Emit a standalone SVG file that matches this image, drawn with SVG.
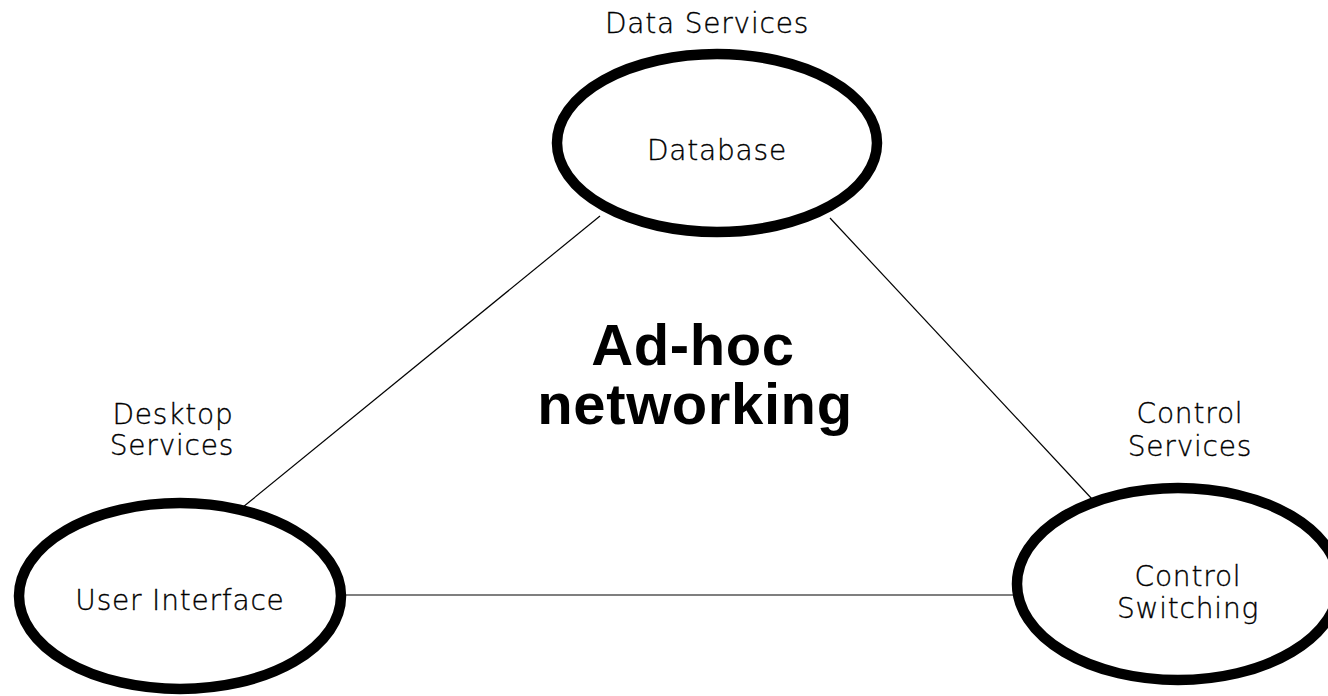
<svg xmlns="http://www.w3.org/2000/svg" width="1328" height="696" viewBox="0 0 1328 696">
  <style>
    .node { fill: #ffffff; stroke: #000000; stroke-width: 10.5; }
    .conn { stroke: #000000; stroke-width: 1.2; fill: none; }
    .lbl { font-family: "DejaVu Sans", "Liberation Sans", sans-serif; font-weight: 200; font-size: 28px; letter-spacing: 0.8px; fill: #000000; stroke: #000000; stroke-width: 0.35; text-anchor: middle; }
    .title { font-family: "Liberation Sans", Arial, sans-serif; font-weight: bold; font-size: 58px; letter-spacing: 0.6px; fill: #000000; text-anchor: middle; }
  </style>
  <rect width="1328" height="696" fill="#ffffff"/>
  <g id="connectors">
    <line class="conn" x1="243" y1="507" x2="600" y2="216"/>
    <line class="conn" x1="830" y1="218" x2="1092" y2="499"/>
    <line class="conn" x1="344" y1="595" x2="1014" y2="595"/>
  </g>
  <g id="database">
    <ellipse class="node" cx="717" cy="143" rx="160" ry="89"/>
    <text class="lbl" x="707" y="33">Data Services</text>
    <text class="lbl" x="717" y="160">Database</text>
  </g>
  <g id="user-interface">
    <ellipse class="node" cx="180" cy="596" rx="161" ry="93"/>
    <text class="lbl"><tspan x="173" y="424">Desktop</tspan><tspan x="172" y="455">Services</tspan></text>
    <text class="lbl" x="180" y="610">User Interface</text>
  </g>
  <g id="control-switching">
    <ellipse class="node" cx="1178" cy="584" rx="161" ry="96"/>
    <text class="lbl"><tspan x="1190" y="423">Control</tspan><tspan x="1190" y="456">Services</tspan></text>
    <text class="lbl"><tspan x="1188" y="586">Control</tspan><tspan x="1188" y="618">Switching</tspan></text>
  </g>
  <g id="center-label">
    <text class="title"><tspan x="693" y="365">Ad-hoc</tspan><tspan x="695" y="424">networking</tspan></text>
  </g>
</svg>
